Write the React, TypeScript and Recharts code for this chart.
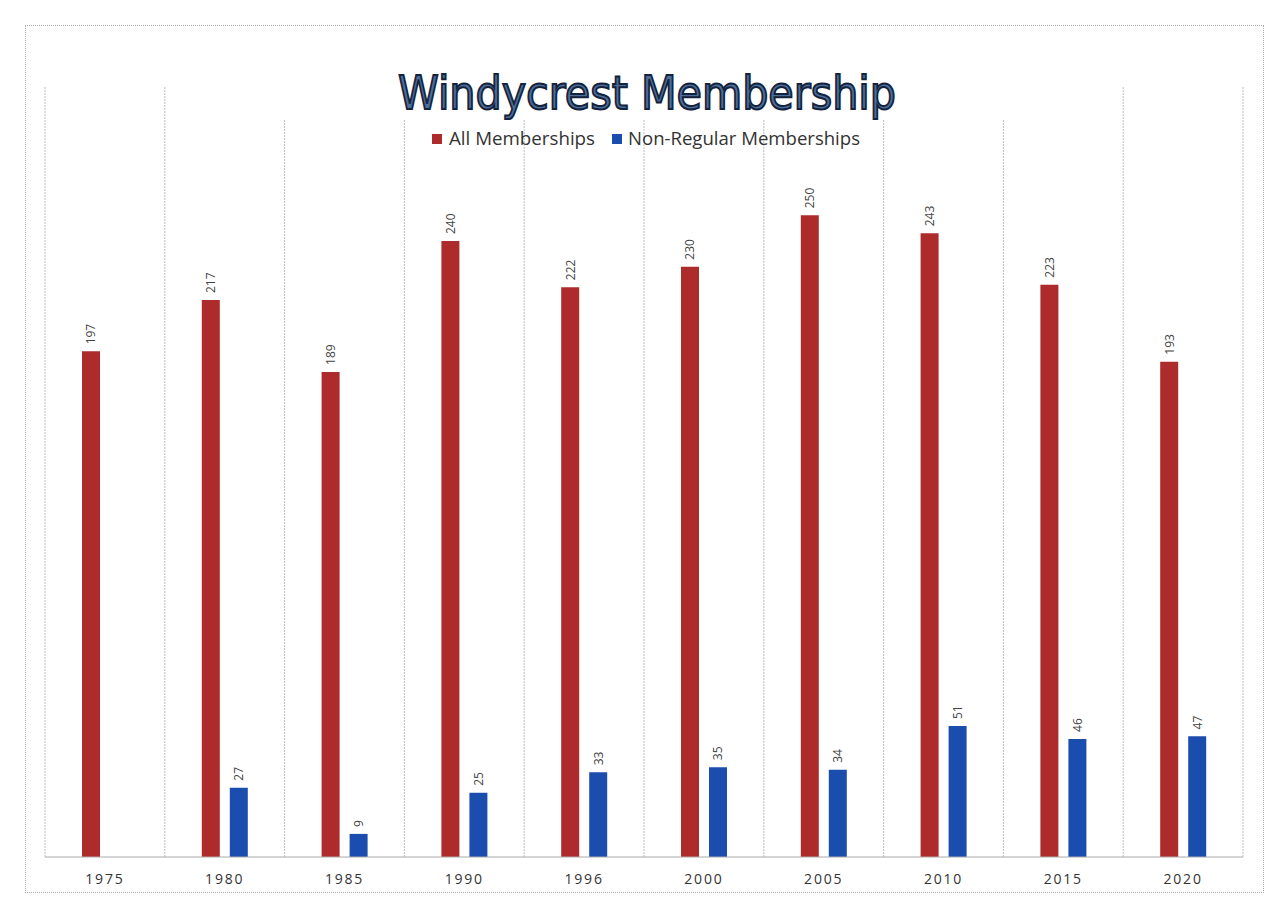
import React from "react";
import { BarChart, Bar, XAxis, YAxis, CartesianGrid, LabelList } from "recharts";

const years = ["1975", "1980", "1985", "1990", "1996", "2000", "2005", "2010", "2015", "2020"];
const allMemberships = [197, 217, 189, 240, 222, 230, 250, 243, 223, 193];
const nonRegular: (number | null)[] = [null, 27, 9, 25, 33, 35, 34, 51, 46, 47];
const seriesNames = ["All Memberships", "Non-Regular Memberships"];
const seriesColors = ["#AE2B2C", "#1B4DAE"];
const titleText = "Windycrest Membership";

const data = years.map((y, i) => ({ year: y, all: allMemberships[i], nonReg: nonRegular[i] }));

const W = 1273;
const H = 893;

const renderLabel = (props: any) => {
  const { x, y, width, value } = props;
  if (value === null || value === undefined) return null;
  const cx = Number(x) + Number(width) / 2;
  const ty = Number(y) - 7;
  return (
    <text
      x={cx}
      y={ty}
      transform={`rotate(-90 ${cx} ${ty})`}
      textAnchor="start"
      dominantBaseline="central"
      fontSize={12}
      fontFamily="'Open Sans', 'Liberation Sans', sans-serif"
      fill="#444"
    >
      {value}
    </text>
  );
};

const renderTick = (props: any) => {
  const { x, y, payload } = props;
  return (
    <text
      x={x}
      y={Number(y) + 19}
      textAnchor="middle"
      fontSize={14}
      letterSpacing={1.8}
      fontFamily="'Open Sans', 'Liberation Sans', sans-serif"
      fill="#333"
    >
      {payload.value}
    </text>
  );
};

export default function App() {
  return (
    <div style={{ position: "relative", width: W, height: H, background: "#fff" }}>
      <div
        style={{
          position: "absolute",
          left: 17,
          top: 17,
          width: 1239,
          height: 868,
          border: "1px dotted #aaa",
          boxSizing: "border-box",
        }}
      />
      <div style={{ position: "absolute", left: 0, top: 0 }}>
        <BarChart
          width={W}
          height={H}
          data={data}
          margin={{ top: 79, right: 38, left: 37, bottom: 14 }}
          barSize={18}
          barGap={10}
        >
          <CartesianGrid
            horizontal={false}
            vertical={true}
            stroke="#bdbdbd"
            strokeDasharray="2 1"
            verticalCoordinatesGenerator={({ offset }: any) =>
              Array.from({ length: years.length + 1 }, (_, i) => offset.left + (i * offset.width) / years.length)
            }
          />
          <XAxis
            dataKey="year"
            axisLine={{ stroke: "#aaa" }}
            tickLine={false}
            height={30}
            tick={renderTick}
            interval={0}
          />
          <YAxis hide domain={[0, 300]} />
          <Bar dataKey="all" name={seriesNames[0]} fill={seriesColors[0]} isAnimationActive={false}>
            <LabelList dataKey="all" content={renderLabel} />
          </Bar>
          <Bar dataKey="nonReg" name={seriesNames[1]} fill={seriesColors[1]} isAnimationActive={false}>
            <LabelList dataKey="nonReg" content={renderLabel} />
          </Bar>
        </BarChart>
      </div>
      <svg
        width={W}
        height={160}
        style={{ position: "absolute", left: 0, top: 0, pointerEvents: "none" }}
      >
        <rect x={180} y={50} width={920} height={62} fill="#fff" />
        <text
          x={639}
          y={101}
          textAnchor="middle"
          fontSize={47}
          fontFamily="'Comic Sans MS', 'DejaVu Sans', sans-serif"
          fill="#4d6f9a"
          stroke="#14233d"
          strokeWidth={2}
          textLength={498}
          lengthAdjust="spacingAndGlyphs"
        >
          {titleText}
        </text>
        <rect x={424} y={126} width={10} height={10} fill={seriesColors[0]} />
        <text
          x={441}
          y={137}
          fontSize={18}
          fontFamily="'Open Sans', 'Liberation Sans', sans-serif"
          fill="#333"
          textLength={146}
          lengthAdjust="spacingAndGlyphs"
        >
          {seriesNames[0]}
        </text>
        <rect x={604} y={126} width={10} height={10} fill={seriesColors[1]} />
        <text
          x={620}
          y={137}
          fontSize={18}
          fontFamily="'Open Sans', 'Liberation Sans', sans-serif"
          fill="#333"
          textLength={232}
          lengthAdjust="spacingAndGlyphs"
        >
          {seriesNames[1]}
        </text>
      </svg>
    </div>
  );
}
